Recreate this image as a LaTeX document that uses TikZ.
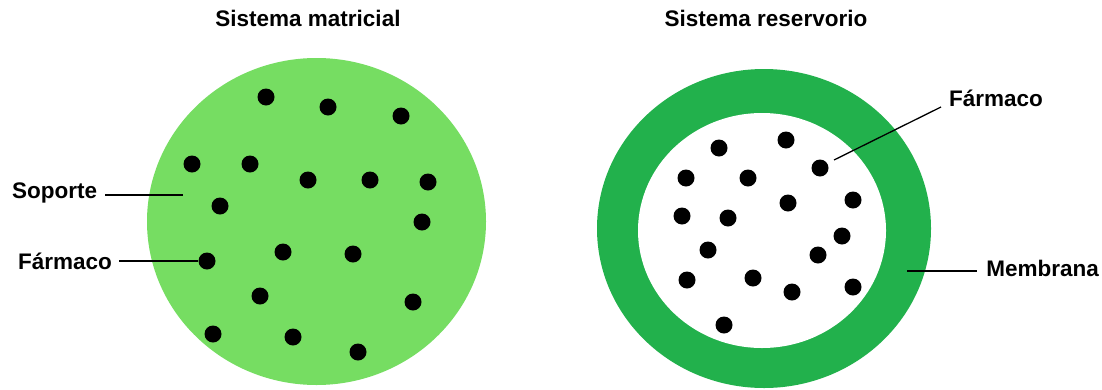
\documentclass[tikz,border=0pt]{standalone}
\usepackage{fontspec}
\setmainfont{Liberation Sans}
\definecolor{lightgreen}{RGB}{118,221,98}
\definecolor{darkgreen}{RGB}{34,177,76}
\begin{document}
\begin{tikzpicture}[x=1pt,y=-1pt,
  dot/.style={circle,fill=black,inner sep=0pt,minimum size=17pt},
  lbl/.style={font=\fontsize{22.5}{26}\selectfont\bfseries,inner sep=0pt},
  leader/.style={draw=black,line width=1.6pt}]
\useasboundingbox (0,0) rectangle (1102,389);
\fill[white] (0,0) rectangle (1102,389);
% left: matrix system
\node[lbl] (t1) at (308,18) {Sistema matricial};
\fill[lightgreen] (316.5,221.5) ellipse[x radius=169.5,y radius=163.5];
\foreach \i/\x/\y in {1/266/97,2/328/107,3/401/116,4/192/164,5/250/164,6/308/180,7/370/180,8/428/182,9/220/206,10/422/222,11/207/261,12/283/252,13/353/254,14/260/296,15/413/302,16/213/334,17/293/337,18/358/352}
  \node[dot] (L\i) at (\x,\y) {};
\node[lbl,anchor=west] (sop) at (12,193) {Soporte};
\coordinate (sopend) at (183,195);
\draw[leader] (105,195) -- (sopend);
\node[lbl,anchor=west] (farL) at (18,261) {Fármaco};
\draw[leader] (119,261) -- (L11);
% right: reservoir system
\node[lbl] (t2) at (766,18) {Sistema reservorio};
\fill[darkgreen] (764,228.5) ellipse[x radius=167,y radius=159.5];
\fill[white] (762,230.5) ellipse[x radius=124,y radius=117.5];
\foreach \i/\x/\y in {1/719/148,2/786/140,3/686/178,4/748/178,5/820/168,6/788/203,7/853/200,8/682/216,9/728/218,10/842/236,11/708/250,12/818/255,13/687/280,14/753/278,15/792/292,16/853/287,17/724/325}
  \node[dot] (R\i) at (\x,\y) {};
\node[lbl,anchor=west] (farR) at (949,98) {Fármaco};
\coordinate (farRstart) at (941,107);
\coordinate (farRend) at (834,160);
\draw[leader,line width=1.3pt] (farRstart) -- (farRend);
\node[lbl,anchor=east] (mem) at (1099,268) {Membrana};
\coordinate (memend) at (907,271);
\draw[leader] (memend) -- (977,271);
\end{tikzpicture}
\end{document}
